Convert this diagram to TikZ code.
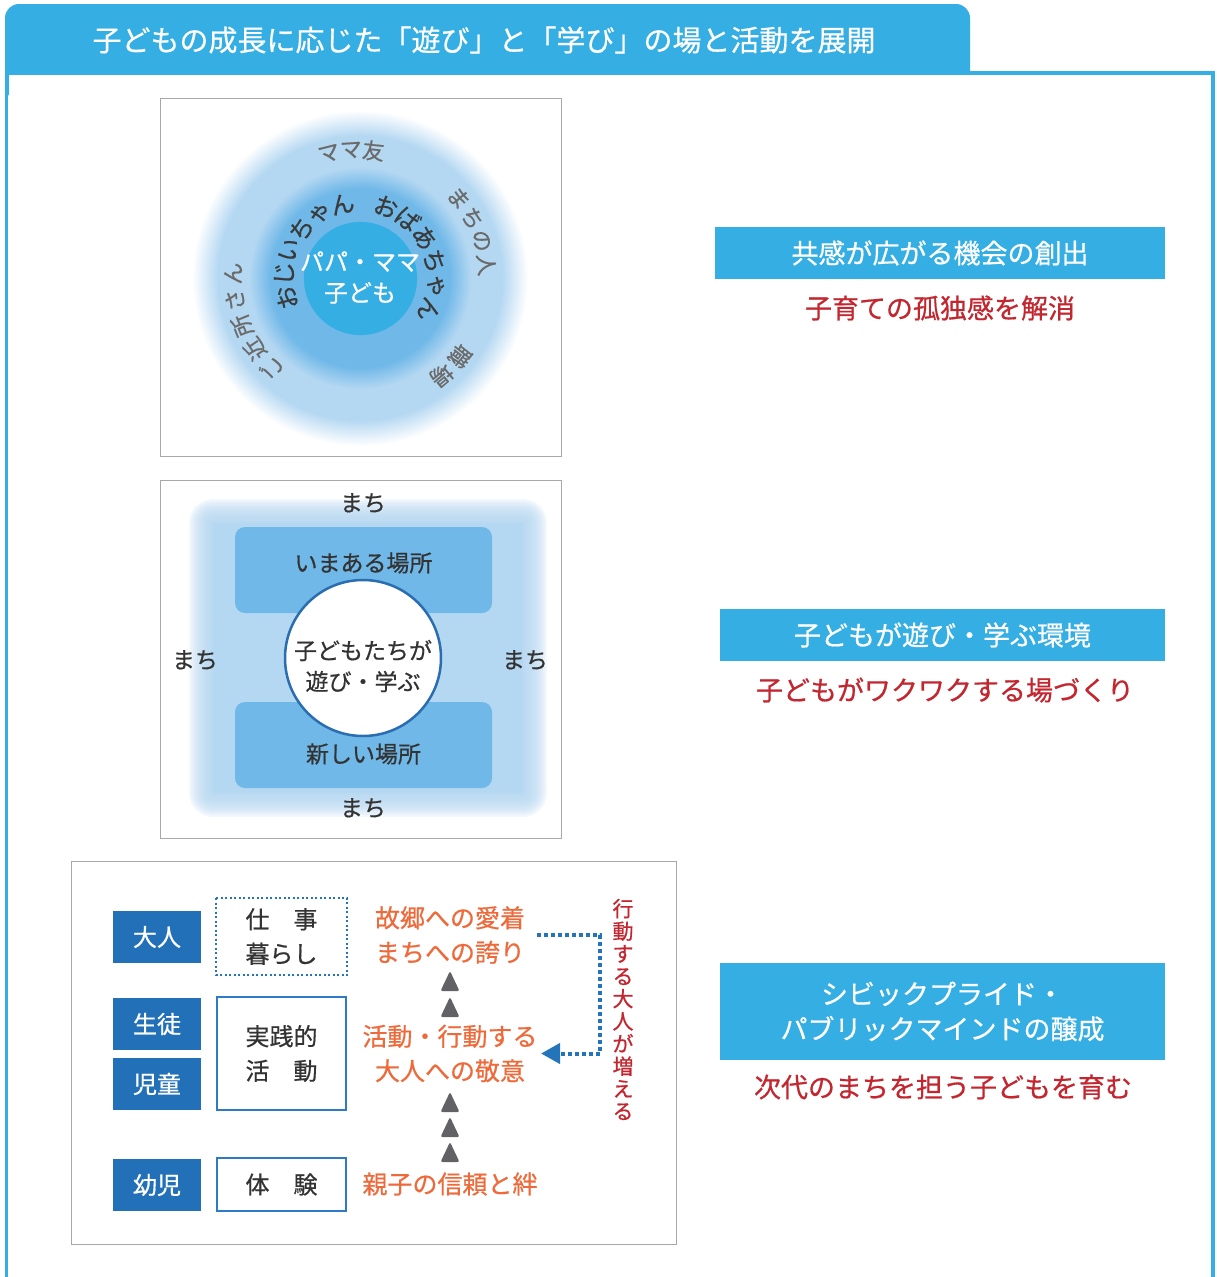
\documentclass[tikz,border=0pt]{standalone}
\usepackage{fontspec}
\setmainfont{Noto Sans CJK JP}[FakeBold=0.6]
\usetikzlibrary{arrows.meta,calc}
\definecolor{hdrblue}{HTML}{34AEE3}
\definecolor{dkblue}{HTML}{2271B8}
\definecolor{boxblue}{HTML}{2E7BC4}
\definecolor{dotblue}{HTML}{2474BA}
\definecolor{circblue}{HTML}{2A6DB0}
\definecolor{midblue}{HTML}{6FB8E8}
\definecolor{ltblue}{HTML}{B5D8F2}
\definecolor{redtxt}{HTML}{C3262F}
\definecolor{orgtxt}{HTML}{EF6A3B}
\definecolor{txtdark}{HTML}{333333}
\definecolor{ringdark}{HTML}{3A3A3A}
\definecolor{ringgray}{HTML}{6A6A6A}
\definecolor{trigray}{HTML}{616166}
\definecolor{boxgray}{HTML}{A8A8A8}
\pgfdeclareradialshading{ringshade}{\pgfpoint{0bp}{0bp}}{%
color(0bp)=(hdrblue); color(8.45bp)=(hdrblue); color(8.5bp)=(midblue);
color(13.3bp)=(midblue); color(16.6bp)=(ltblue); color(21.2bp)=(ltblue); color(25bp)=(white); color(50bp)=(white)}
\begin{document}
\begin{tikzpicture}[x=1pt,y=-1pt,
  hdr/.style={text=white, font=\fontsize{29}{34}\selectfont, inner sep=0},
  rbox/.style={fill=hdrblue, text=white, font=\fontsize{27}{35}\selectfont, align=center, inner sep=0},
  rtxt/.style={text=redtxt, font=\fontsize{27}{32}\selectfont, inner sep=0},
  inring/.style={text=ringdark, font=\fontsize{24}{26}\selectfont, inner sep=0},
  outring/.style={text=ringgray, font=\fontsize{22}{24}\selectfont, inner sep=0},
  ctext/.style={text=white, font=\fontsize{24}{31}\selectfont, align=center, inner sep=0},
  midtext/.style={text=txtdark, font=\fontsize{23}{31}\selectfont, align=center, inner sep=0},
  place/.style={fill=midblue, rounded corners=10, minimum width=257, minimum height=86, inner sep=0},
  kidcircle/.style={circle, draw=circblue, line width=2.5, fill=white, minimum size=156, inner sep=0},
  age/.style={fill=dkblue, text=white, font=\fontsize{24}{28}\selectfont, minimum width=88, minimum height=52, inner sep=0},
  actbox/.style={draw=boxblue, line width=2, fill=white, text=txtdark, font=\fontsize{24}{34.5}\selectfont, align=center, minimum width=129, inner sep=0},
  acttext/.style={text=orgtxt, font=\fontsize{25}{34.5}\selectfont, align=center},
  dotline/.style={draw=dotblue, line width=4, dash pattern=on 4pt off 3pt},
  vtext/.style={text=redtxt, font=\fontsize{21}{22.5}\selectfont, align=center, inner sep=0}
]
\useasboundingbox (0,0) rectangle (1216,1277);
\fill[white] (0,0) rectangle (1216,1277);

% header tab and frame
\fill[hdrblue, rounded corners=14] (5,4) rectangle (970,100);
\fill[white] (8.5,74.5) rectangle (1211.5,1277);
\draw[hdrblue, line width=3.5] (6.5,1277) -- (6.5,73) (968,73) -- (1213,73) -- (1213,1277);
\node[hdr] (title) at (484,40) {子どもの成長に応じた「遊び」と「学び」の場と活動を展開};

% panel 1
\draw[boxgray, line width=1] (160.5,98.5) rectangle (561,456);
\shade[shading=ringshade] (360,278) circle[radius=168];
\begin{scope}[shift={(360,278)}, y=1pt]
  \foreach \ch [count=\i from 0] in {お,じ,い,ち,ゃ,ん}
    \node[inring, rotate={105-18.3*\i}] (oji\i) at ({195-18.3*\i}:76) {\ch};
  \foreach \ch [count=\i from 0] in {お,ば,あ,ち,ゃ,ん}
    \node[inring, rotate={-20-19*\i}] (oba\i) at ({70-19*\i}:76) {\ch};
  \foreach \ch [count=\i from 0] in {マ,マ,友}
    \node[outring, rotate={14-10*\i}] (mama\i) at ({104-10*\i}:128) {\ch};
  \foreach \ch [count=\i from 0] in {ま,ち,の,人}
    \node[outring, rotate={-51-11*\i}] (machi\i) at ({39-11*\i}:127) {\ch};
  \foreach \ch [count=\i from 0] in {職,場}
    \node[outring, rotate={-128-12*\i}] (shoku\i) at ({-38-12*\i}:127) {\ch};
  \foreach \ch [count=\i from 0] in {ご,近,所,さ,ん}
    \node[outring, rotate={136-12*\i}] (kin\i) at ({226-12*\i}:127) {\ch};
\end{scope}
\node[ctext] (papa) at (360,277.5) {パパ・ママ\\子ども};

% panel 2
\draw[boxgray, line width=1] (160.5,480.5) rectangle (561,838);
\fill[ltblue] (213,523) rectangle (523,793);
\foreach \k in {1,...,12}
  \fill[ltblue, fill opacity=0.16, rounded corners=2*\k] (213-2*\k,523-2*\k) rectangle (523+2*\k,793+2*\k);
\node[place] (ima) at (363.5,570) {};
\node[midtext] (imat) at (363.5,563) {いまある場所};
\node[place] (shin) at (363.5,745) {};
\node[midtext] (shint) at (363.5,754) {新しい場所};
\node[kidcircle] (kid) at (363,658) {};
\node[midtext] (kidt) at (363,666) {子どもたちが\\遊び・学ぶ};
\node[midtext] (mt) at (363,503) {まち};
\node[midtext] (ml) at (195,660) {まち};
\node[midtext] (mr) at (525,660) {まち};
\node[midtext] (mb) at (363,808) {まち};

% panel 3
\draw[boxgray, line width=1] (71.5,861.5) rectangle (676,1244);
\node[age] (otona) at (157,937) {大人};
\node[age] (seito) at (157,1024) {生徒};
\node[age] (jido) at (157,1084) {児童};
\node[age] (yoji) at (157,1185) {幼児};
\node[actbox, draw=none, minimum height=75] (shigoto) at (281.5,936.5) {仕　事\\暮らし};
\draw[dotblue, line width=1.8, dash pattern=on 2pt off 2.5pt] (shigoto.north west) rectangle (shigoto.south east);
\node[actbox, minimum height=113] (jissen) at (281.5,1053.5) {実践的\\活　動};
\node[actbox, minimum height=53] (taiken) at (281.5,1184.5) {体　験};
\node[acttext] (aichaku) at (450,935) {故郷への愛着\\まちへの誇り};
\node[acttext] (kodo) at (450,1053.5) {活動・行動する\\大人への敬意};
\node[acttext] (shinrai) at (450,1184) {親子の信頼と絆};
\foreach \ty in {981,1007,1102,1127,1152}
  \fill[trigray, rounded corners=2] (450,\ty-10) -- (459.5,\ty+10) -- (440.5,\ty+10) -- cycle;
\coordinate (dstart) at ($(aichaku.east)+(8,0)$);
\coordinate (dturn) at (600,935);
\draw[dotline, -{Triangle[length=19pt,width=20pt]}] (dstart) -- (dturn) |- (kodo.east);
\node[vtext] (zou) at (623,1009.5) {行\\動\\す\\る\\大\\人\\が\\増\\え\\る};

% right column
\node[rbox, minimum width=450, minimum height=52] (kyokan) at (940,253) {共感が広がる機会の創出};
\node[rtxt] (kodoku) at (940,308) {子育ての孤独感を解消};
\node[rbox, minimum width=445, minimum height=52] (kankyo) at (942.5,635) {子どもが遊び・学ぶ環境};
\node[rtxt] (wakuwaku) at (945,690) {子どもがワクワクする場づくり};
\node[rbox, minimum width=445, minimum height=97] (civic) at (942.5,1011.5) {シビックプライド・\\パブリックマインドの醸成};
\node[rtxt] (jidai) at (943,1087) {次代のまちを担う子どもを育む};
\end{tikzpicture}
\end{document}
